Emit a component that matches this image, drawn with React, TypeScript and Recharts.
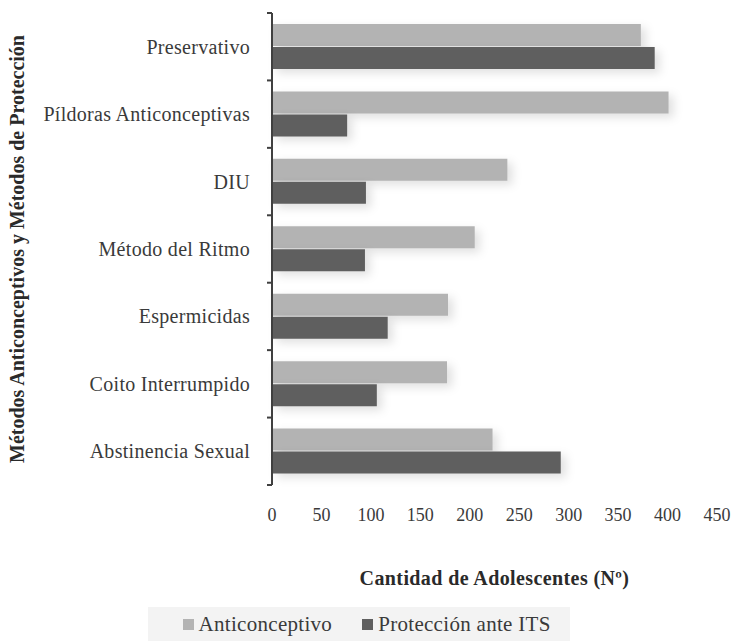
import { BarChart, Bar, XAxis, YAxis, Legend } from 'recharts';

const categories = [
  'Preservativo',
  'Píldoras Anticonceptivas',
  'DIU',
  'Método del Ritmo',
  'Espermicidas',
  'Coito Interrumpido',
  'Abstinencia Sexual',
];
const anticonceptivo = [373, 401, 238, 205, 178, 177, 223];
const proteccion = [387, 76, 95, 94, 117, 106, 292];
const xTicks = [0, 50, 100, 150, 200, 250, 300, 350, 400, 450];

const series = [
  { key: 'anticonceptivo', name: 'Anticonceptivo', color: '#b3b3b3' },
  { key: 'proteccion', name: 'Protección ante ITS', color: '#5f5f5f' },
];

const data = categories.map((name, i) => ({
  name,
  anticonceptivo: anticonceptivo[i],
  proteccion: proteccion[i],
}));

const FONT = '"Liberation Serif", serif';
const TEXT = '#3a3a3a';
const PLOT_TOP = 13;
const PLOT_BOTTOM = 485;
const BAND = (PLOT_BOTTOM - PLOT_TOP) / categories.length;

function CategoryTick(props: any) {
  const { x, y, payload, index } = props;
  const axisX = x + 22;
  return (
    <g>
      <text
        x={x}
        y={y}
        dy="0.35em"
        textAnchor="end"
        fontFamily={FONT}
        fontSize={20}
        letterSpacing={0.3}
        fill={TEXT}
      >
        {payload.value}
      </text>
      <line x1={axisX - 5} x2={axisX} y1={y - BAND / 2} y2={y - BAND / 2} stroke="#404040" strokeWidth={2} />
      {index === categories.length - 1 && (
        <line x1={axisX - 5} x2={axisX} y1={y + BAND / 2} y2={y + BAND / 2} stroke="#404040" strokeWidth={2} />
      )}
    </g>
  );
}

function LegendBox() {
  return (
    <div
      style={{
        width: 422,
        height: 34,
        margin: '0 auto',
        background: '#f3f3f3',
        display: 'flex',
        justifyContent: 'flex-start',
        alignItems: 'center',
        gap: 30,
        paddingLeft: 35,
        boxSizing: 'border-box',
        fontFamily: FONT,
        fontSize: 21,
        letterSpacing: 0.3,
        color: TEXT,
      }}
    >
      {series.map((s) => (
        <span key={s.key} style={{ display: 'flex', alignItems: 'center' }}>
          <span style={{ width: 11, height: 11, background: s.color, marginRight: 5, display: 'inline-block' }} />
          {s.name}
        </span>
      ))}
    </div>
  );
}

export default function App() {
  return (
    <div style={{ position: 'absolute', left: 0, top: 0, background: '#fff' }}>
      <style>{`.recharts-bar-rectangle { filter: drop-shadow(5px 4px 5px rgba(0,0,0,0.12)); }`}</style>
      <BarChart
        width={732}
        height={641}
        data={data}
        layout="vertical"
        margin={{ top: PLOT_TOP, right: 15, left: 0, bottom: 0 }}
        barSize={22}
        barGap={1}
      >
        <XAxis
          type="number"
          domain={[0, 450]}
          ticks={xTicks}
          axisLine={false}
          tickLine={false}
          tickSize={0}
          tickMargin={23}
          height={122}
          tick={{ fontFamily: FONT, fontSize: 18, fill: TEXT }}
          label={{
            content: (p: any) => {
              const vb = p.viewBox;
              return (
                <text
                  x={vb.x + vb.width / 2}
                  y={578}
                  dy="0.35em"
                  textAnchor="middle"
                  fontFamily={FONT}
                  fontWeight="bold"
                  fontSize={20}
                  letterSpacing={0.4}
                  fill="#2a2a2a"
                >
                  Cantidad de Adolescentes (Nº)
                </text>
              );
            },
          }}
        />
        <YAxis
          type="category"
          dataKey="name"
          width={272}
          axisLine={{ stroke: '#404040', strokeWidth: 2 }}
          tickLine={false}
          tickSize={0}
          tickMargin={22}
          tick={<CategoryTick />}
          interval={0}
          label={{
            content: (p: any) => {
              const vb = p.viewBox;
              const cy = vb.y + vb.height / 2;
              return (
                <text
                  x={17}
                  y={cy}
                  textAnchor="middle"
                  dy="0.35em"
                  transform={`rotate(-90, 17, ${cy})`}
                  fontFamily={FONT}
                  fontWeight="bold"
                  fontSize={20}
                  fill="#2a2a2a"
                >
                  Métodos Anticonceptivos y Métodos de Protección
                </text>
              );
            },
          }}
        />
        <Legend verticalAlign="bottom" content={<LegendBox />} />
        {series.map((s) => (
          <Bar key={s.key} dataKey={s.key} name={s.name} fill={s.color} isAnimationActive={false} />
        ))}
      </BarChart>
    </div>
  );
}
